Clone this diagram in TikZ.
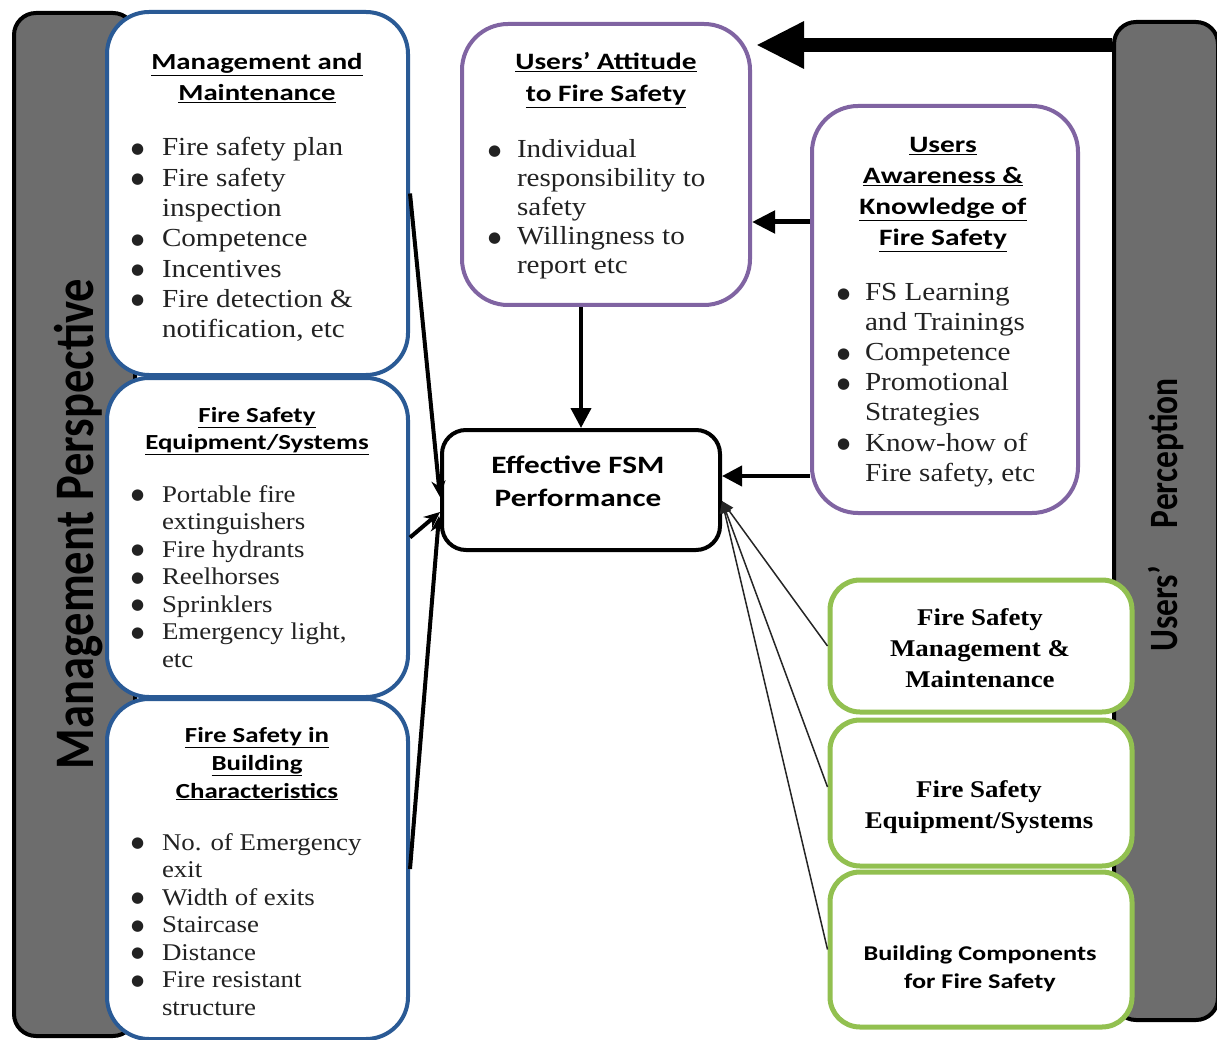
\documentclass[tikz,border=0pt]{standalone}
\usepackage{fontspec}
\setmainfont{Liberation Serif}[FakeStretch=1.12]
\newfontfamily\hd{Carlito}[FakeStretch=1.25]
\newfontfamily\sidefont{Carlito}
\newfontfamily\dv{DejaVu Sans}
\usetikzlibrary{arrows.meta,calc}
\definecolor{bxblue}{HTML}{2A5A95}
\definecolor{bxpurple}{HTML}{8064A2}
\definecolor{bxgreen}{HTML}{92C050}
\definecolor{bargrey}{HTML}{6D6D6D}
\definecolor{bodytext}{HTML}{222222}
\tikzset{
  sidebar/.style={draw=black, line width=4pt, fill=bargrey, rounded corners=22pt},
  mbox/.style={draw=bxblue, line width=4pt, fill=white, rounded corners=42pt, inner sep=0pt},
  ubox/.style={draw=bxpurple, line width=4pt, fill=white, rounded corners=46pt, inner sep=0pt},
  gbox/.style={draw=bxgreen, line width=5pt, fill=white, rounded corners=30pt, inner sep=0pt},
  fsmbox/.style={draw=black, line width=4pt, fill=white, rounded corners=24pt, inner sep=0pt},
  txt/.style={inner sep=0pt, outer sep=0pt},
  btxt/.style={inner sep=0pt, outer sep=0pt, text=bodytext},
  arr/.style={line width=4pt, -{Triangle[length=20pt,width=20pt]}},
  sarr/.style={line width=4pt, -{Stealth[length=16pt,width=14pt]}},
  tarr/.style={line width=1.5pt, draw=black!85, -{Triangle[length=12pt,width=10pt]}},
}
\newcommand{\hdline}[1]{\underline{#1}}
\newcommand{\bul}{\raisebox{2.5pt}{\dv\fontsize{15}{15}\selectfont ●}}
\begin{document}
\begin{tikzpicture}[x=1pt,y=-1pt]
\useasboundingbox[fill=white] (0,0) rectangle (1217,1040);
% side bars
\node[sidebar, minimum width=121pt, minimum height=1023pt] (lbar) at (74.5,524.5) {};
\node[sidebar, minimum width=104pt, minimum height=998pt] (rbar) at (1166,521) {};
\node[txt, rotate=90] (lbl) at (79,524) {\scalebox{1}[1.2]{\sidefont\bfseries\fontsize{46.5}{52}\selectfont Management Perspective}};
\node[txt, rotate=90] (rlbl) at (1166,515) {\scalebox{1}[1.2]{\sidefont\bfseries\fontsize{33.5}{40}\selectfont Users’\hspace{38pt}Perception}};

% left boxes
\node[mbox, minimum width=301pt, minimum height=363pt] (b1) at (257.5,193.5) {};
\node[mbox, minimum width=301pt, minimum height=319pt] (b2) at (257.5,537.5) {};
\node[mbox, minimum width=301pt, minimum height=340pt] (b3) at (257.5,869) {};

\node[txt, anchor=base] (b1h) at (257,70) {\hd\bfseries\fontsize{23}{31}\selectfont
  \begin{tabular}[t]{@{}c@{}}\hdline{Management and}\\ \hdline{Maintenance}\end{tabular}};
\node[btxt, anchor=base west] (b1t) at (131,156) {\fontsize{26}{30.3}\selectfont
  \begin{tabular}[t]{@{}p{31pt}@{}l@{}}
  \bul & Fire safety plan\\
  \bul & Fire safety\\
  & inspection\\
  \bul & Competence\\
  \bul & Incentives\\
  \bul & Fire detection \&\\
  & notification, etc
  \end{tabular}};

\node[txt, anchor=base] (b2h) at (257,422) {\hd\bfseries\fontsize{21.5}{27}\selectfont
  \begin{tabular}[t]{@{}c@{}}\hdline{Fire Safety}\\ \hdline{Equipment/Systems}\end{tabular}};
\node[btxt, anchor=base west] (b2t) at (131,502) {\fontsize{24}{27.5}\selectfont
  \begin{tabular}[t]{@{}p{31pt}@{}l@{}}
  \bul & Portable fire\\
  & extinguishers\\
  \bul & Fire hydrants\\
  \bul & Reelhorses\\
  \bul & Sprinklers\\
  \bul & Emergency light,\\
  & etc
  \end{tabular}};

\node[txt, anchor=base] (b3h) at (257,742) {\hd\bfseries\fontsize{21.5}{28}\selectfont
  \begin{tabular}[t]{@{}c@{}}\hdline{Fire Safety in}\\ \hdline{Building}\\ \hdline{Characteristics}\end{tabular}};
\node[btxt, anchor=base west] (b3t) at (131,850) {\fontsize{24}{27.5}\selectfont
  \begin{tabular}[t]{@{}p{31pt}@{}l@{}}
  \bul & No. of Emergency\\
  & exit\\
  \bul & Width of exits\\
  \bul & Staircase\\
  \bul & Distance\\
  \bul & Fire resistant\\
  & structure
  \end{tabular}};

% users' attitude
\node[ubox, minimum width=288pt, minimum height=281pt] (att) at (606,164.5) {};
\node[txt, anchor=base] (atth) at (606,70) {\hd\bfseries\fontsize{23.5}{32}\selectfont
  \begin{tabular}[t]{@{}c@{}}\hdline{Users’ Attitude}\\ \hdline{to Fire Safety}\end{tabular}};
\node[btxt, anchor=base west] (attt) at (488,158) {\fontsize{26}{29}\selectfont
  \begin{tabular}[t]{@{}p{29pt}@{}l@{}}
  \bul & Individual\\
  & responsibility to\\
  & safety\\
  \bul & Willingness to\\
  & report etc
  \end{tabular}};

% users' awareness
\node[ubox, minimum width=266pt, minimum height=407pt] (aw) at (945,309.5) {};
\node[txt, anchor=base] (awh) at (943,153) {\hd\bfseries\fontsize{23.5}{31}\selectfont
  \begin{tabular}[t]{@{}c@{}}\hdline{Users}\\ \hdline{Awareness \&}\\ \hdline{Knowledge of}\\ \hdline{Fire Safety}\end{tabular}};
\node[btxt, anchor=base west] (awt) at (837,301) {\fontsize{26}{30}\selectfont
  \begin{tabular}[t]{@{}p{28pt}@{}l@{}}
  \bul & FS Learning\\
  & and Trainings\\
  \bul & Competence\\
  \bul & Promotional\\
  & Strategies\\
  \bul & Know-how of\\
  & Fire safety, etc
  \end{tabular}};

% central node
\node[fsmbox, minimum width=278pt, minimum height=120pt] (fsm) at (581,490) {};
\node[txt, anchor=base] (fsmt) at (578,473) {\hd\bfseries\fontsize{25}{33}\selectfont
  \begin{tabular}[t]{@{}c@{}}Effective FSM\\ Performance\end{tabular}};

% green boxes
\node[gbox, minimum width=302pt, minimum height=132pt] (g1) at (981,646) {};
\node[gbox, minimum width=302pt, minimum height=146pt] (g2) at (981,793) {};
\node[gbox, minimum width=302pt, minimum height=155pt] (g3) at (981,949.5) {};
\node[txt, anchor=base] (g1t) at (980,625) {\bfseries\fontsize{24}{31}\selectfont
  \begin{tabular}[t]{@{}c@{}}Fire Safety\\ Management \&\\ Maintenance\end{tabular}};
\node[txt, anchor=base] (g2t) at (979,797) {\bfseries\fontsize{24}{31}\selectfont
  \begin{tabular}[t]{@{}c@{}}Fire Safety\\ Equipment/Systems\end{tabular}};
\node[txt, anchor=base] (g3t) at (980,960) {\hd\bfseries\fontsize{21}{28}\selectfont
  \begin{tabular}[t]{@{}c@{}}Building Components\\ for Fire Safety\end{tabular}};

% connectors
\coordinate (bigtip) at (756,45);
\draw[line width=14pt, -{Triangle[length=48pt,width=44pt]}] ([yshift=476pt]rbar.west) -- (bigtip);
\draw[line width=5pt, -{Triangle[length=23pt,width=22pt]}] ([yshift=87.5pt]aw.west) -- ([yshift=87.5pt]aw.west -| att.east);
\draw[arr] (fsm.north |- att.south) -- (fsm.north);
\draw[arr] ([yshift=-166.5pt]aw.west) -- ([yshift=-166.5pt]aw.west -| fsm.east);
\draw[sarr] (b1.east) -- ([yshift=-7pt]fsm.west);
\draw[sarr] (b2.east) -- ([yshift=-22pt]fsm.west);
\draw[sarr] (b3.east) -- ([yshift=-26pt,xshift=-1pt]fsm.west);
\draw[tarr] (g1.west) -- ([yshift=-11pt]fsm.east);
\draw[tarr] ([yshift=6pt]g2.west) -- ([yshift=-11pt]fsm.east);
\draw[tarr] (g3.west) -- ([yshift=-11pt]fsm.east);
\end{tikzpicture}
\end{document}
